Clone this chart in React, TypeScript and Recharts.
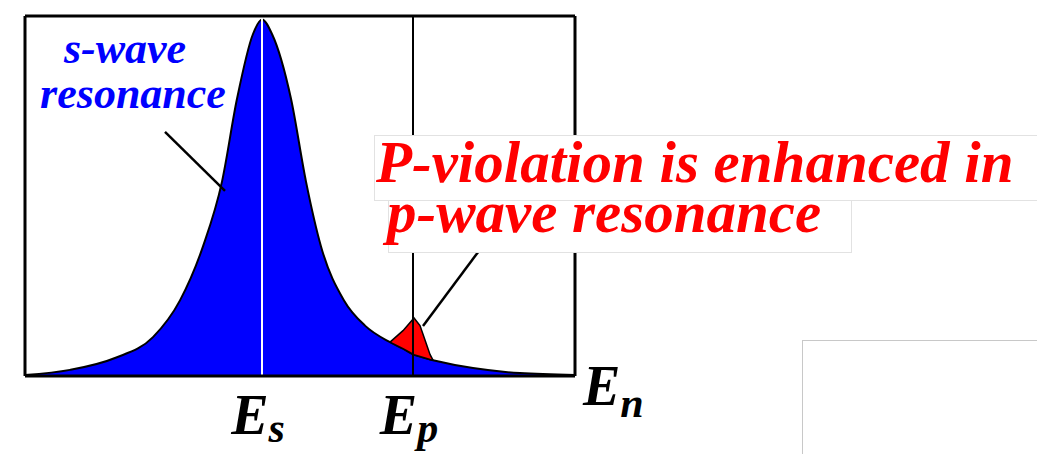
import { ComposedChart, Area, XAxis, YAxis, ReferenceLine } from "recharts";

// neutron energy (plot units, 0..550) and cross-section heights (0..100)
const energy = [0, 45, 90, 128, 155, 178, 197, 212, 228, 237, 247, 266, 281, 296, 319, 340, 365, 378, 389, 395, 400, 405, 408, 448, 495, 550];
const sWave = [0.3, 1.7, 5, 10.8, 21, 36, 54, 77, 95, 99, 95, 77, 54, 36, 21, 14, 9.4, 7.6, 5.9, 5.4, 5.0, 4.6, 4.4, 2.2, 0.8, 0.3];
const pWaveTop = [null, null, null, null, null, null, null, null, null, null, null, null, null, null, null, null, 9.4, 12.6, 16.1, 14, 10, 6, 4.4, null, null, null];

const tickValues = [237, 388];
const tickSubscripts = ["s", "p"];
const axisName = ["E", "n"];

const sPointer = [{ x: 140, y: 67.8 }, { x: 200, y: 51.4 }];
const pPointer = [{ x: 453, y: 34.4 }, { x: 398, y: 13.9 }];

const rows = energy.map((e, i) => ({
  e,
  s: sWave[i],
  p: pWaveTop[i] == null ? null : [sWave[i], pWaveTop[i]]
}));

const serif = '"Liberation Serif", "Times New Roman", serif';

function EnergyTick(props: any) {
  const { x, y, payload } = props;
  const idx = tickValues.indexOf(payload.value);
  return (
    <text x={x - 4} y={y + 58} textAnchor="middle" fontFamily={serif} fontWeight="bold" fontStyle="italic" fontSize={56} fill="#000">
      <tspan>E</tspan>
      <tspan dy={8} fontSize={42}>{tickSubscripts[idx]}</tspan>
    </text>
  );
}

function AxisName(props: any) {
  const { viewBox } = props;
  return (
    <text x={viewBox.x + viewBox.width + 8} y={viewBox.y + 29} fontFamily={serif} fontWeight="bold" fontStyle="italic" fontSize={56} fill="#000">
      <tspan>{axisName[0]}</tspan>
      <tspan dy={12} fontSize={42}>{axisName[1]}</tspan>
    </text>
  );
}

export default function App() {
  return (
    <div style={{ position: "absolute", left: 0, top: 0, width: 1037, height: 454, background: "#fff", overflow: "hidden" }}>
      <ComposedChart width={1037} height={454} data={rows} margin={{ top: 16, left: 25, right: 462, bottom: 0 }}>
        <XAxis
          dataKey="e"
          type="number"
          domain={[0, 550]}
          ticks={tickValues}
          tickLine={false}
          tickSize={0}
          tickMargin={0}
          height={78}
          axisLine={{ stroke: "#000", strokeWidth: 3 }}
          tick={<EnergyTick />}
          label={{ content: <AxisName /> }}
        />
        <YAxis hide domain={[0, 100]} />
        <Area type="monotone" dataKey="s" fill="#0000ff" fillOpacity={1} stroke="#000" strokeWidth={2} isAnimationActive={false} dot={false} activeDot={false} />
        <Area type="linear" dataKey="p" fill="#ff0000" fillOpacity={1} stroke="#000" strokeWidth={1.5} isAnimationActive={false} dot={false} activeDot={false} />
        <ReferenceLine x={237} stroke="#ffffff" strokeWidth={2} />
        <ReferenceLine x={388} stroke="#000" strokeWidth={2} />
        <ReferenceLine x={0} stroke="#000" strokeWidth={3} />
        <ReferenceLine x={550} stroke="#000" strokeWidth={3} />
        <ReferenceLine y={100} stroke="#000" strokeWidth={3} />
        <ReferenceLine segment={sPointer} stroke="#000" strokeWidth={2.5} />
        <ReferenceLine segment={pPointer} stroke="#000" strokeWidth={2.5} />
      </ComposedChart>
      <svg width={1037} height={454} style={{ position: "absolute", left: 0, top: 0, pointerEvents: "none" }}>
        <rect x={802.5} y={340.5} width={260} height={130} fill="#fff" stroke="#c8c8c8" />
        <g fontFamily={serif} fontWeight="bold" fontStyle="italic" fill="#0000ff" fontSize={44} textAnchor="middle">
          <text x={125} y={63}>s-wave</text>
          <text x={133} y={108}>resonance</text>
        </g>
        <rect x={374.5} y={135.5} width={700} height={65} fill="#fff" stroke="#e2e2e2" />
        <rect x={388.5} y={200.5} width={463} height={52} fill="#fff" stroke="#e2e2e2" />
        <g fontFamily={serif} fontWeight="bold" fontStyle="italic" fill="#ff0000" fontSize={59}>
          <text x={376} y={182}>P-violation is enhanced in</text>
          <text x={387} y={232}>p-wave resonance</text>
        </g>
      </svg>
    </div>
  );
}
